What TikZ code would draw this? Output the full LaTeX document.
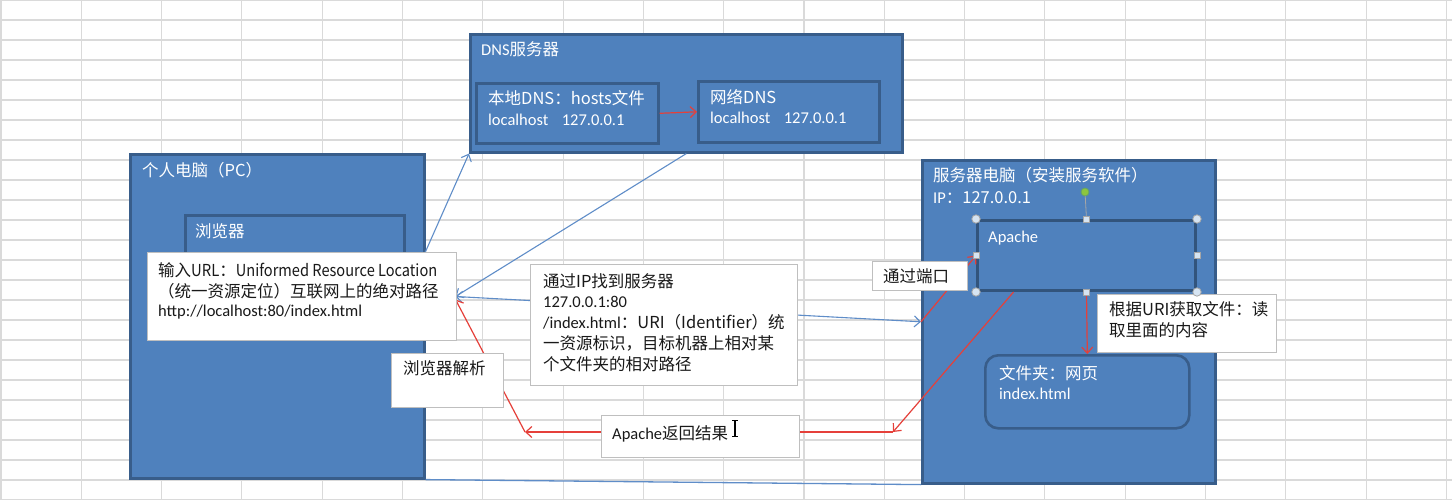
\documentclass[tikz,border=0pt]{standalone}
\usepackage{fontspec}
\setmainfont{Carlito}
\newfontfamily\cjk{Noto Sans CJK SC}
\usetikzlibrary{arrows.meta,calc}
\definecolor{bfill}{HTML}{4F81BD}
\definecolor{bline}{HTML}{385D8A}
\definecolor{gridc}{HTML}{DADADA}
\definecolor{redl}{HTML}{E5403A}
\definecolor{bluel}{HTML}{5F8DC8}
\definecolor{boxline}{HTML}{BFBFBF}
\definecolor{handlec}{HTML}{D6E4F2}
\definecolor{greenh}{HTML}{8CC63F}
\tikzset{
  gridline/.style={draw=gridc, line width=1.1pt},
  bluebox/.style={draw=bline, fill=bfill, line width=2.6pt, anchor=north west, inner sep=0pt},
  whitebox/.style={draw=boxline, fill=white, line width=1pt, anchor=north west, inner sep=0pt},
  wtxt/.style={anchor=base west, inner sep=0pt, text=white, font=\fontsize{16.5}{20}\selectfont},
  ktxt/.style={anchor=base west, inner sep=0pt, text=black!90, font=\fontsize{16.5}{20}\selectfont},
  tip/.style={-{Straight Barb[length=6pt,width=11pt]}},
  bluearrow/.style={draw=bluel, line width=1.1pt, tip},
  redarrow/.style={draw=redl, line width=1.2pt, tip},
  blueline/.style={draw=bluel, line width=1.3pt},
  handle/.style={draw=gray!70, fill=handlec, line width=0.8pt},
}
\begin{document}
\begin{tikzpicture}[x=1pt,y=-1pt]
\useasboundingbox (0,0) rectangle (1452,500);
\fill[white] (0,0) rectangle (1452,500);
% spreadsheet grid
\foreach \i in {0,...,18} \draw[gridline] ({1+80.3*\i},0) -- ({1+80.3*\i},500);
\foreach \j in {0,...,25} \draw[gridline] (0,{20*\j}) -- (1452,{20*\j});

% blue containers
\node[bluebox, minimum width=294pt, minimum height=324pt] (pc) at (129,153) {};
\node[bluebox, minimum width=219pt, minimum height=120pt] (browser) at (184,214) {};
\node[bluebox, minimum width=432pt, minimum height=118pt] (dns) at (469,33) {};
\node[bluebox, minimum width=182pt, minimum height=60pt] (dnslocal) at (475,82) {};
\node[bluebox, minimum width=181pt, minimum height=61pt] (dnsnet) at (697,80) {};
\node[bluebox, minimum width=293pt, minimum height=323pt] (server) at (921,159) {};
\node[bluebox, minimum width=218pt, minimum height=70pt, line width=3pt, draw=bline!90!black] (apache) at (976,219) {};
\node[bluebox, minimum width=204pt, minimum height=73pt, rounded corners=13pt] (folder) at (984,354) {};

% texts in blue boxes
\node[wtxt] (tdns) at (481,56) {DNS\cjk{服务器}};
\node[wtxt] (tloc1) at (488,105) {\cjk{本地}DNS\cjk{：}hosts\cjk{文件}};
\node[wtxt] (tloc2) at (488,125.5) {localhost\hspace*{13.5pt}127.0.0.1};
\node[wtxt] (tnet1) at (710,104) {\cjk{网络}DNS};
\node[wtxt] (tnet2) at (710,124) {localhost\hspace*{13.5pt}127.0.0.1};
\node[wtxt] (tpc) at (142,177) {\cjk{个人电脑（}PC\cjk{）}};
\node[wtxt] (tbrowser) at (195,237) {\cjk{浏览器}};
\node[wtxt] (tserver) at (933,182) {\cjk{服务器电脑（安装服务软件）}};
\node[wtxt] (tip) at (933,204) {IP\cjk{：}127.0.0.1};
\node[wtxt] (tapache) at (988,242) {Apache};
\node[wtxt] (tfolder1) at (999,379) {\cjk{文件夹：网页}};
\node[wtxt] (tfolder2) at (999,399.5) {index.html};

% connectors
\coordinate (urlR) at (455.5,296.5);
\coordinate (bsrc) at (browser.east |- urlR);
\draw[bluearrow] (bsrc) -- (dns.south west);
\draw[bluearrow] (dns.south) -- (urlR);
\draw[bluearrow, {Straight Barb[length=6pt,width=11pt]}-{Straight Barb[length=6pt,width=11pt]}] (urlR) -- (server.west);
\draw[redarrow] (dnslocal.east) -- (dnsnet.west);
\draw[redarrow] (server.west) -- (apache.west);
\coordinate (turnA) at (893,432);
\coordinate (turnB) at (525,432);
\draw[redarrow] ($(apache.south west)!0.17!(apache.south east)$) -- (turnA);
\draw[redarrow] (turnA) -- (turnB);
\draw[redarrow] (turnB) -- ([yshift=-3pt]urlR);
\draw[redarrow] (apache.south) -- (folder.north);
\draw[blueline] (pc.south east) -- (server.south west);

% white boxes
\node[whitebox, minimum width=309pt, minimum height=88pt] (url) at (147,252) {};
\node[whitebox, minimum width=112pt, minimum height=54pt] (parse) at (391,353) {};
\node[whitebox, minimum width=267pt, minimum height=121pt] (mid) at (530,264) {};
\node[whitebox, minimum width=198pt, minimum height=42pt] (ret) at (601,415) {};
\node[whitebox, minimum width=95pt, minimum height=29pt] (port) at (872,261) {};
\node[whitebox, minimum width=179pt, minimum height=58pt] (uri) at (1097,294) {};

% texts in white boxes
\node[ktxt] (turl1) at (158,276) {\cjk{输入}{\addfontfeature{FakeStretch=0.9}URL}\cjk{：}{\addfontfeature{FakeStretch=0.885}Uniformed Resource Location}};
\node[ktxt] (turl2) at (158,297) {\cjk{（统一资源定位）互联网上的绝对路径}};
\node[ktxt] (turl3) at (158,316) {http://localhost:80/index.html};
\node[ktxt] (tparse) at (403,374) {\cjk{浏览器解析}};
\node[ktxt] (tmid1) at (543,287) {\cjk{通过}IP\cjk{找到服务器}};
\node[ktxt] (tmid2) at (543,307.5) {127.0.0.1:80};
\node[ktxt] (tmid3) at (543,328.5) {/index.html\cjk{：}URI\cjk{（}Identifier\cjk{）统}};
\node[ktxt] (tmid4) at (543,349) {\cjk{一资源标识，目标机器上相对某}};
\node[ktxt] (tmid5) at (543,370) {\cjk{个文件夹的相对路径}};
\node[ktxt] (tret) at (612,439) {Apache\cjk{返回结果}};
\node[ktxt] (tport) at (883,282) {\cjk{通过端口}};
\node[ktxt] (turi1) at (1109,315) {\cjk{根据}URI\cjk{获取文件：读}};
\node[ktxt] (turi2) at (1109,336) {\cjk{取里面的内容}};

% text cursor (I-beam)
\draw[black, line width=1.1pt] (735,421) -- (735,436)
  (732,420.5) -- (738,420.5) (732,436.5) -- (738,436.5);

% selection handles on Apache box
\draw[gray!70, line width=0.8pt] (apache.north) -- (1085,192);
\draw[handle, fill=greenh, draw=green!40!black!60] (1085,192) circle (4pt);
\foreach \c in {north west, north east, south west, south east}
  \draw[handle] (apache.\c) circle (4.2pt);
\foreach \c in {north, south, west, east}
  \draw[handle] ([xshift=-3pt,yshift=-3pt]apache.\c) rectangle ([xshift=3pt,yshift=3pt]apache.\c);
\end{tikzpicture}
\end{document}
